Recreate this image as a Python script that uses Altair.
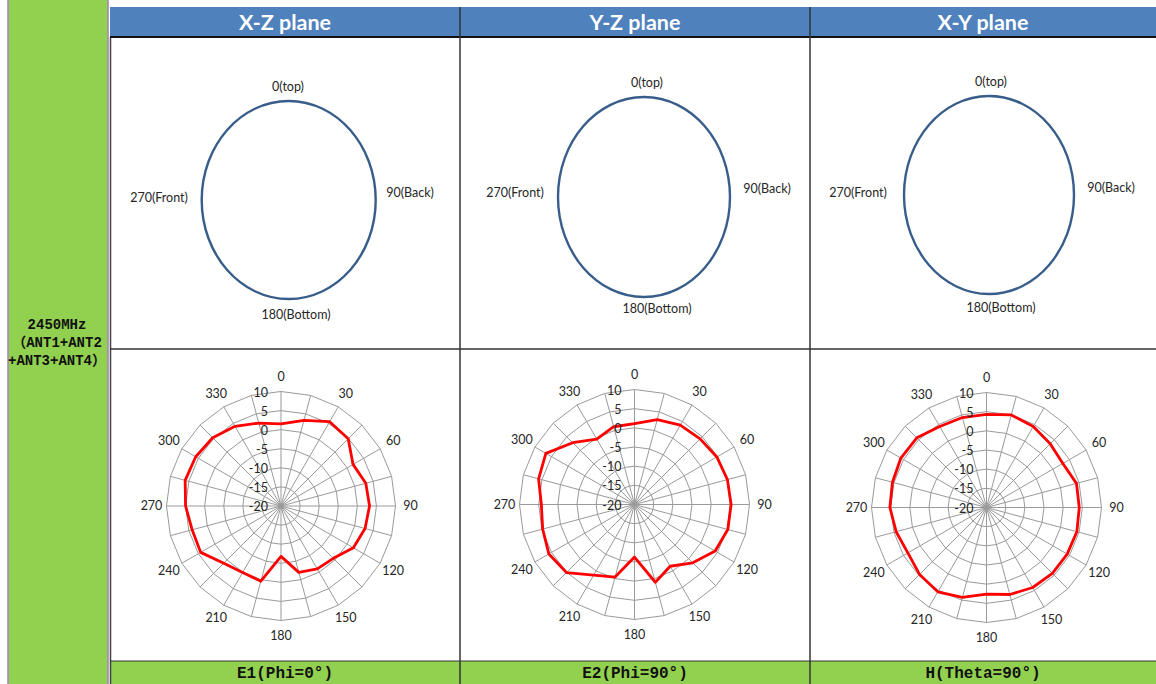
import altair as alt
import pandas as pd

W, H = 1156, 684

# ---------------- data ----------------
PANEL_TITLES = ["X-Z plane", "Y-Z plane", "X-Y plane"]
FOOTER_LABELS = ["E1(Phi=0°)", "E2(Phi=90°)", "H(Theta=90°)"]
ROW_LABEL_LINES = ["2450MHz", "（ANT1+ANT2", "+ANT3+ANT4）"]
ORIENT_LABELS = ["0(top)", "90(Back)", "180(Bottom)", "270(Front)"]
ANGLES = list(range(0, 360, 15))
ANGLE_TICKS = list(range(0, 360, 30))
DB_TICKS = [-20, -15, -10, -5, 0, 5, 10]
E1_DB = [1.5, 3.2, 5.5, 4.9, 1.8, 3.0, 3.2, 2.8, 1.9, -0.6, -1.0, -2.0,
         -6.8, 0.4, 0.1, 1.2, 4.3, 4.1, 5.0, 6.0, 5.8, 5.3, 4.1, 2.5]
E2_DB = [1.1, 2.9, 3.9, 4.2, 4.8, 5.1, 5.2, 5.2, 4.3, 1.5, -1.4, 1.0,
         -6.3, -0.4, 1.3, 5.1, 5.8, 4.8, 4.3, 5.9, 6.7, 2.8, -0.3, 1.0]
H_DB = [4.3, 5.0, 4.4, 3.5, 3.0, 4.3, 4.2, 4.4, 4.3, 4.3, 4.1, 3.5,
        2.6, 4.3, 5.4, 4.7, 3.7, 4.4, 5.2, 5.4, 5.8, 5.7, 4.4, 4.3]
SERIES = [E1_DB, E2_DB, H_DB]

# ---------------- layout ----------------
COL_EDGES = [110, 460, 810, 1156]
PANEL_CX = [285, 635, 983]
HEADER_TOP, HEADER_BOTTOM = 7, 37
ROW_SPLIT = 349
FOOTER_TOP = 661
POLAR = [(281, 506, 114.5), (634.5, 504.5, 115), (986.5, 507.5, 115)]
ELLIPSE = [(288.7, 200, 87, 99), (644, 197, 86, 100), (989, 195, 85, 99)]
ORIENT_XY = [
    [(288, 87), (410, 193), (296, 315), (159, 198)],
    [(647, 83), (767, 189), (657, 309), (515, 193)],
    [(991, 82), (1111, 188), (1001, 308), (858, 193)],
]
GREEN = "#92d050"
BLUE = "#4f81bd"
PURPLE = "#8064a2"
GRID = "#9a9a9a"
TXT = "#262626"
LABEL_FONT = "Lato"
CJK_FONT = "Liberation Mono, Noto Sans CJK SC"

XS = alt.Scale(domain=[0, W], nice=False, zero=False)
YS = alt.Scale(domain=[0, H], reverse=True, nice=False, zero=False)


def ex(f):
    return alt.X(f"{f}:Q", scale=XS, axis=None)


def ey(f):
    return alt.Y(f"{f}:Q", scale=YS, axis=None)


layers = []

# background blocks
rects = pd.DataFrame([
    dict(x=8.5, x2=107.5, y=0, y2=H, c=GREEN),
    dict(x=110, x2=W, y=HEADER_TOP, y2=HEADER_BOTTOM, c=BLUE),
    dict(x=110, x2=W, y=FOOTER_TOP, y2=H, c=GREEN),
])
layers.append(
    alt.Chart(rects).mark_rect(strokeWidth=0).encode(
        x=ex("x"), x2=alt.X2("x2:Q"), y=ey("y"), y2=alt.Y2("y2:Q"),
        color=alt.Color("c:N", scale=None),
    )
)

# table borders
rules = pd.DataFrame([
    dict(x=8, x2=8, y=0, y2=H, c=PURPLE, w=1.2),
    dict(x=108, x2=108, y=0, y2=H, c=PURPLE, w=1.2),
    dict(x=110.5, x2=110.5, y=HEADER_BOTTOM, y2=H, c="#404040", w=1.5),
    dict(x=110, x2=W, y=HEADER_BOTTOM, y2=HEADER_BOTTOM, c="#111111", w=2),
    dict(x=110, x2=W, y=ROW_SPLIT, y2=ROW_SPLIT, c="#333333", w=1.5),
    dict(x=110, x2=W, y=FOOTER_TOP, y2=FOOTER_TOP, c="#333333", w=1.2),
    dict(x=COL_EDGES[1], x2=COL_EDGES[1], y=HEADER_TOP, y2=H, c="#333333", w=1.5),
    dict(x=COL_EDGES[2], x2=COL_EDGES[2], y=HEADER_TOP, y2=H, c="#333333", w=1.5),
])
layers.append(
    alt.Chart(rules).mark_rule().encode(
        x=ex("x"), x2=alt.X2("x2:Q"), y=ey("y"), y2=alt.Y2("y2:Q"),
        color=alt.Color("c:N", scale=None),
        strokeWidth=alt.StrokeWidth("w:Q", scale=None),
    )
)

# header titles
hdr = pd.DataFrame({"t": PANEL_TITLES, "x": PANEL_CX, "y": [30] * 3})
layers.append(
    alt.Chart(hdr).mark_text(font=LABEL_FONT, fontSize=21.5, fontWeight="bold",
                             color="white", baseline="alphabetic", align="center").encode(
        x=ex("x"), y=ey("y"), text="t:N")
)

# footer labels
ftr = pd.DataFrame({"t": FOOTER_LABELS, "x": PANEL_CX, "y": [672.5] * 3})
layers.append(
    alt.Chart(ftr).mark_text(font=CJK_FONT, fontSize=16, fontWeight="bold",
                             color="#111111", baseline="middle", align="center").encode(
        x=ex("x"), y=ey("y"), text="t:N")
)

# row label
rl = pd.DataFrame({"t": ROW_LABEL_LINES, "x": [57] * 3, "y": [325, 343, 361]})
layers.append(
    alt.Chart(rl).mark_text(font=CJK_FONT, fontSize=14, fontWeight="bold",
                            color="#111111", baseline="middle", align="center").encode(
        x=ex("x"), y=ey("y"), text="t:N")
)

for i in range(3):
    # orientation ellipse
    ecx, ecy, erx, ery = ELLIPSE[i]
    a = erx / ery
    path = f"M0,-1 A{a:.4f},1 0 1,1 0,1 A{a:.4f},1 0 1,1 0,-1 Z"
    edf = pd.DataFrame({"x": [ecx], "y": [ecy]})
    layers.append(
        alt.Chart(edf).mark_point(shape=path, size=(2 * ery) ** 2, filled=False,
                                  color="#385d8a", strokeWidth=2.4, opacity=1).encode(
            x=ex("x"), y=ey("y"))
    )
    odf = pd.DataFrame({"t": ORIENT_LABELS,
                        "x": [p[0] for p in ORIENT_XY[i]],
                        "y": [p[1] for p in ORIENT_XY[i]]})
    layers.append(
        alt.Chart(odf).mark_text(font=LABEL_FONT, fontSize=12.5, color=TXT,
                                 baseline="middle", align="center").encode(
            x=ex("x"), y=ey("y"), text="t:N")
    )

    # polar grid
    cx, cy, R = POLAR[i]
    k = R / 30.0
    xe = f"{cx} + {k}*(datum.level+20)*sin(datum.angle*PI/180)"
    ye = f"{cy} - {k}*(datum.level+20)*cos(datum.angle*PI/180)"

    ring_rows = []
    for lv in DB_TICKS[1:]:
        for j, ang in enumerate(ANGLES + [ANGLES[0]]):
            ring_rows.append({"level": lv, "angle": ang, "ord": j})
    layers.append(
        alt.Chart(pd.DataFrame(ring_rows)).transform_calculate(px=xe, py=ye)
        .mark_line(color=GRID, strokeWidth=1).encode(
            x=ex("px"), y=ey("py"), detail="level:N", order="ord:Q")
    )

    spokes = pd.DataFrame({"angle": ANGLES, "level": [DB_TICKS[-1]] * len(ANGLES)})
    layers.append(
        alt.Chart(spokes).transform_calculate(px=xe, py=ye, x0=f"{cx}", y0=f"{cy}")
        .mark_rule(color=GRID, strokeWidth=1).encode(
            x=ex("x0"), y=ey("y0"), x2=alt.X2("px:Q"), y2=alt.Y2("py:Q"))
    )

    # pattern line
    vals = SERIES[i]
    pat = pd.DataFrame({"angle": ANGLES + [ANGLES[0]],
                        "level": vals + [vals[0]],
                        "ord": list(range(len(ANGLES) + 1))})
    layers.append(
        alt.Chart(pat).transform_calculate(px=xe, py=ye)
        .mark_line(color="#ff0000", strokeWidth=2.8, strokeJoin="round").encode(
            x=ex("px"), y=ey("py"), order="ord:Q")
    )

    # radial tick labels
    dbl = pd.DataFrame({"level": DB_TICKS, "t": [str(v) for v in DB_TICKS]})
    layers.append(
        alt.Chart(dbl).transform_calculate(px=f"{cx - 13}", py=f"{cy + 1} - {k}*(datum.level+20)")
        .mark_text(font=LABEL_FONT, fontSize=12.5, color=TXT, align="right", baseline="middle").encode(
            x=ex("px"), y=ey("py"), text="t:N")
    )

    # angle tick labels
    al = pd.DataFrame({"angle": ANGLE_TICKS, "t": [str(v) for v in ANGLE_TICKS]})
    rl_ = R + 15
    layers.append(
        alt.Chart(al).transform_calculate(
            px=f"{cx} + {rl_}*sin(datum.angle*PI/180)",
            py=f"{cy} - {rl_}*cos(datum.angle*PI/180)")
        .mark_text(font=LABEL_FONT, fontSize=12.5, color=TXT, align="center", baseline="middle").encode(
            x=ex("px"), y=ey("py"), text="t:N")
    )

chart = alt.layer(*layers).properties(
    width=W, height=H, autosize=alt.AutoSizeParams(type="none"), padding=0,
    background="white",
).configure_view(strokeWidth=0)

chart.save("out.html", embed_options={"renderer": "svg", "actions": False})
